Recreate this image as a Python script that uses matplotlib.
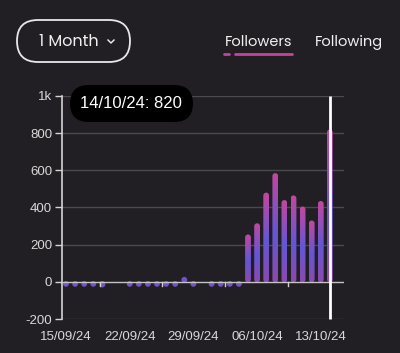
import numpy as np
import matplotlib
matplotlib.use("Agg")
import matplotlib.pyplot as plt
from matplotlib.path import Path
from matplotlib.patches import PathPatch, FancyBboxPatch
from matplotlib.colors import LinearSegmentedColormap

# ---- data ----
dates = ["15/09", "16/09", "17/09", "18/09", "19/09", "20/09", "21/09",
         "22/09", "23/09", "24/09", "25/09", "26/09", "27/09", "28/09",
         "29/09", "30/09", "01/10", "02/10", "03/10", "04/10", "05/10",
         "06/10", "07/10", "08/10", "09/10", "10/10", "11/10", "12/10",
         "13/10", "14/10"]
values = [-10, -10, -12, -10, -30, 0, 0,
          -10, -12, -12, -10, -10, -12, 3,
          -10, 0, -12, -10, -5, -12, 255,
          315, 480, 585, 440, 465, 405, 330,
          435, 820]
xtick_labels = ["15/09/24", "22/09/24", "29/09/24", "06/10/24", "13/10/24"]
xtick_idx = [0, 7, 14, 21, 28]
minor_idx = [3.7, 10.5, 17.5, 24.4]
ytick_vals = [-200, 0, 200, 400, 600, 800, 1000]
ytick_labels = ["-200", "0", "200", "400", "600", "800", "1k"]
tooltip = "14/10/24: 820"
highlight = 29

BG = "#211f24"
W, H = 400, 353
fig = plt.figure(figsize=(W / 100, H / 100), dpi=100, facecolor=BG)
TICKFONT = ["Liberation Sans", "DejaVu Sans"]
UIFONT = ["Poppins", "Lato", "DejaVu Sans"]

ax_l, ax_r = 62, 344
ax_top, ax_bot = 96, 319
ax = fig.add_axes([ax_l / W, 1 - ax_bot / H, (ax_r - ax_l) / W, (ax_bot - ax_top) / H])
ax.set_facecolor(BG)
xmin, xmax = -0.44, 30.55
ax.set_xlim(xmin, xmax)
ax.set_ylim(-200, 1000)

for s in ["top", "right", "bottom"]:
    ax.spines[s].set_visible(False)
ax.spines["left"].set_color("#d4d4d4")
ax.spines["left"].set_linewidth(1.2)

for yv in ytick_vals:
    if yv == 0:
        continue
    ax.axhline(yv, color="#4a494e", lw=1.0, zorder=1)

ax.set_yticks(ytick_vals)
ax.set_yticklabels(ytick_labels, family=TICKFONT)
ax.tick_params(axis="y", colors="#d4d4d4", labelcolor="#d8d8d8", length=5,
               width=1, labelsize=9.5, pad=2)
ax.set_xticks(xtick_idx)
ax.set_xticklabels(xtick_labels, family=TICKFONT)
ax.tick_params(axis="x", length=0, labelcolor="#d8d8d8", labelsize=9.5, pad=9)

px_per_x = (ax_r - ax_l) / (xmax - xmin)
px_per_y = (ax_bot - ax_top) / 1200.0
bar_w_px = 5.8
rx = bar_w_px / 2 / px_per_x
ry = bar_w_px / 2 / px_per_y

cmap = LinearSegmentedColormap.from_list(
    "g", [(0.0, "#8a4aac"), (0.45, "#6456d6"), (1.0, "#c4479e")])
grad = np.linspace(0, 1, 256).reshape(-1, 1)


def capsule(xc, y0, y1):
    k = 0.5523
    x0, x1 = xc - rx, xc + rx
    verts = [
        (x0, y0 + ry), (x0, y1 - ry),
        (x0, y1 - ry + k * ry), (xc - k * rx, y1), (xc, y1),
        (xc + k * rx, y1), (x1, y1 - ry + k * ry), (x1, y1 - ry),
        (x1, y0 + ry),
        (x1, y0 + ry - k * ry), (xc + k * rx, y0), (xc, y0),
        (xc - k * rx, y0), (x0, y0 + ry - k * ry), (x0, y0 + ry),
        (x0, y0 + ry),
    ]
    codes = [Path.MOVETO, Path.LINETO,
             Path.CURVE4, Path.CURVE4, Path.CURVE4,
             Path.CURVE4, Path.CURVE4, Path.CURVE4,
             Path.LINETO,
             Path.CURVE4, Path.CURVE4, Path.CURVE4,
             Path.CURVE4, Path.CURVE4, Path.CURVE4,
             Path.CLOSEPOLY]
    return Path(verts, codes)


for i, v in enumerate(values):
    if v == 0:
        continue
    if v > 2 * ry:
        y0, y1 = -ry * 0.2, v
        patch = PathPatch(capsule(i, y0, y1), facecolor="none", edgecolor="none")
        ax.add_patch(patch)
        im = ax.imshow(grad, cmap=cmap, origin="lower", aspect="auto",
                       extent=[i - rx, i + rx, y0, y1], zorder=3,
                       interpolation="bilinear")
        im.set_clip_path(patch)
    elif v > 0:
        y0 = -ry * 0.3
        y1 = max(v, y0 + 2 * ry)
        ax.add_patch(PathPatch(capsule(i, y0, y1), facecolor="#7552c8",
                               edgecolor="none", zorder=3))
    else:
        y1 = ry * 0.3
        y0 = min(v, y1 - 2 * ry)
        ax.add_patch(PathPatch(capsule(i, y0, y1), facecolor="#7552c8",
                               edgecolor="none", zorder=3))

ax.set_xlim(xmin, xmax)
ax.set_ylim(-200, 1000)

ax.axhline(0, color="#c4c4c4", lw=1.0, zorder=4)
for m in minor_idx:
    ax.plot([m, m], [0, -22], color="#d0d0d0", lw=1.0, zorder=4)

ax.plot([highlight, highlight], [-200, 1000], color="#ffffff", lw=2.0,
        zorder=6, solid_capstyle="butt", clip_on=False)

# tooltip
tip = FancyBboxPatch((70 / W, 1 - 122 / H), 123 / W, 37 / H,
                     boxstyle="round,pad=0,rounding_size=0.047",
                     mutation_aspect=W / H,
                     transform=fig.transFigure, facecolor="#000000",
                     edgecolor="none", zorder=10)
fig.patches.append(tip)
fig.text(131 / W, 1 - 103.5 / H, tooltip, color="white", fontsize=12,
         ha="center", va="center", family=TICKFONT, zorder=11)

# header pill
pill = FancyBboxPatch((17 / W, 1 - 62 / H), 113 / W, 42 / H,
                      boxstyle="round,pad=0,rounding_size=0.0525",
                      mutation_aspect=W / H,
                      transform=fig.transFigure, facecolor="none",
                      edgecolor="#e8e8e8", lw=1.3)
fig.patches.append(pill)
fig.text(39 / W, 1 - 42 / H, "1 Month", color="#f0f0f0", fontsize=11.5,
         ha="left", va="center", family=UIFONT)
fig.add_artist(plt.Line2D([108 / W, 111 / W, 114 / W],
                          [1 - 40 / H, 1 - 43 / H, 1 - 40 / H],
                          color="#f0f0f0", lw=1.0, transform=fig.transFigure))

fig.text(225 / W, 1 - 42 / H, "Followers", color="#f0f0f0", fontsize=10.5,
         ha="left", va="center", family=UIFONT)
fig.text(315 / W, 1 - 42 / H, "Following", color="#f0f0f0", fontsize=10.5,
         ha="left", va="center", family=UIFONT)
fig.add_artist(plt.Line2D([224 / W, 229 / W], [1 - 54 / H] * 2, color="#c2449c",
                          lw=2, solid_capstyle="round", transform=fig.transFigure))
fig.add_artist(plt.Line2D([235 / W, 292 / W], [1 - 54 / H] * 2, color="#c2449c",
                          lw=2, solid_capstyle="round", transform=fig.transFigure))

fig.savefig("out.png", dpi=100, facecolor=BG)
